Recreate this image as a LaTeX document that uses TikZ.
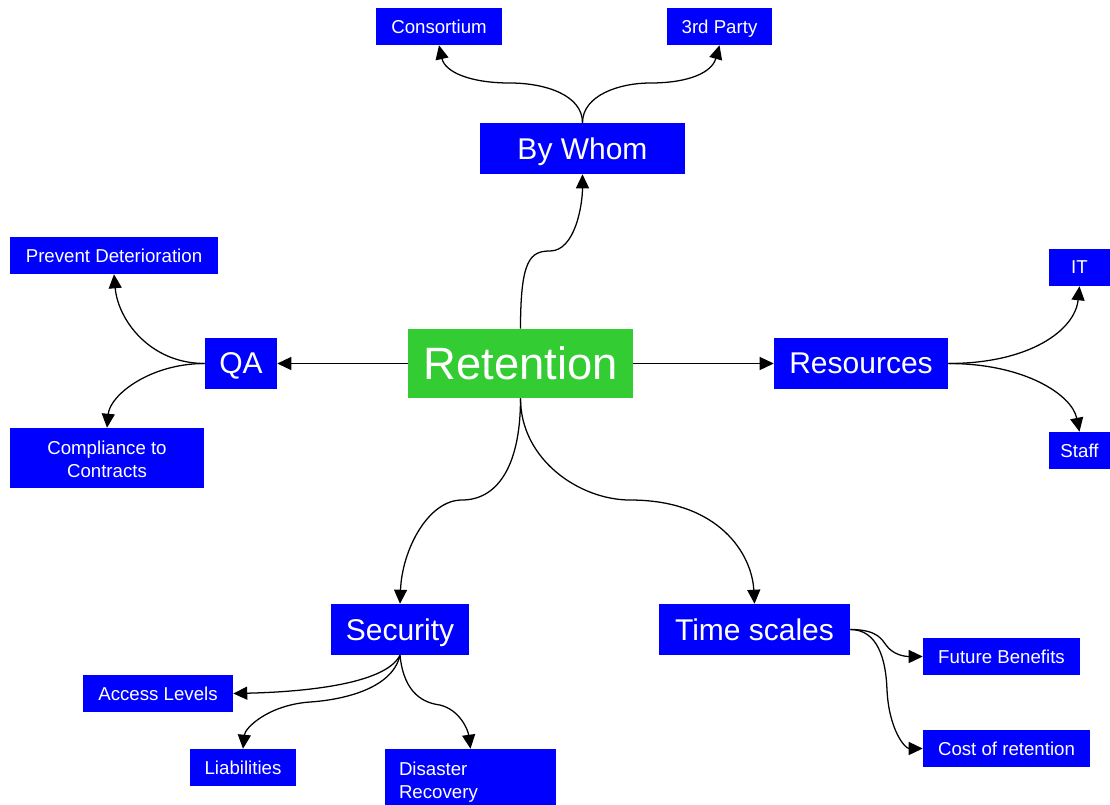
\documentclass[tikz,border=0pt]{standalone}
\usepackage{fontspec}
\setmainfont{Liberation Sans}
\usetikzlibrary{arrows.meta}
\definecolor{nodeblue}{RGB}{0,0,255}
\definecolor{rootgreen}{RGB}{51,204,51}
\begin{document}
\begin{tikzpicture}[x=0.75pt,y=-0.75pt,
  box/.style={fill=nodeblue,text=white,inner sep=0pt,align=center,text depth=0pt},
  big/.style={box,minimum height=38.25pt,font=\fontsize{22.5}{27}\selectfont},
  small/.style={box,minimum height=27.75pt,font=\fontsize{14}{17.25}\selectfont},
  link/.style={line width=0.95pt,-{Triangle[length=10.5pt,width=9.75pt]}},
  ]
\useasboundingbox (0,0) rectangle (1110,804);

% root topic
\node[fill=rootgreen,text=white,inner sep=0pt,minimum width=168.75pt,minimum height=51.75pt,
      text depth=0pt,font=\fontsize{34}{40}\selectfont] (ret) at (520.5,363.5) {Retention};

% main branches
\node[big,minimum width=153.75pt] (bw)  at (582.5,148.5) {By Whom};
\node[big,minimum width=54pt]     (qa)  at (241,363.5)   {QA};
\node[big,minimum width=130.5pt]  (res) at (861,363.5)   {Resources};
\node[big,minimum width=103.5pt]  (sec) at (400,629.5)   {Security};
\node[big,minimum width=143.25pt] (ts)  at (754.5,629.5) {Time scales};

% leaves
\node[small,minimum width=94.5pt]   (cons)  at (439,26.5)    {Consortium};
\node[small,minimum width=78.75pt]  (third) at (719.5,26.5)  {3rd Party};
\node[small,minimum width=156pt]    (pd)    at (114,255.5)   {Prevent Deterioration};
\node[small,minimum width=145.5pt,minimum height=45pt] (comp) at (107,458)
      {\begin{tabular}[b]{@{}c@{}}Compliance to\\Contracts\end{tabular}};
\node[small,minimum width=45.75pt]  (it)    at (1079.5,267.5) {IT};
\node[small,minimum width=45.75pt]  (staff) at (1079.5,450.5) {Staff};
\node[small,minimum width=112.5pt]  (al)    at (158,693.5)   {Access Levels};
\node[small,minimum width=79.5pt]   (li)    at (243,767.5)   {Liabilities};
\node[small,align=left,inner xsep=10.5pt,text width=107.25pt,minimum height=45pt]
      (dr) at (470.5,779) {\begin{tabular}[b]{@{}l@{}}Disaster\\Recovery\end{tabular}};
\node[small,minimum width=117.75pt] (fb)    at (1001.5,656.5) {Future Benefits};
\node[small,minimum width=125.25pt] (cr)    at (1006.5,748.5) {Cost of retention};

% root connectors
\draw[link] (ret.north) .. controls (520.5,260) and (530,251) .. (550,251)
                        .. controls (575,251) and (582.5,205) .. (bw.south);
\draw[link] (ret.west) -- (qa.east);
\draw[link] (ret.east) -- (res.west);
\draw[link] (ret.south) .. controls (520.5,470) and (495,500) .. (462,500)
                        .. controls (428,500) and (402,550) .. (sec.north);
\draw[link] (ret.south) .. controls (520.5,460) and (580,500) .. (630,500)
                        .. controls (720,500) and (752,555) .. (ts.north);

% By Whom
\draw[link] (bw.north) .. controls (582.5,95) and (545,83) .. (510,83)
                       .. controls (470,83) and (445,72) .. (cons.south);
\draw[link] (bw.north) .. controls (582.5,95) and (620,83) .. (650,83)
                       .. controls (690,83) and (712,72) .. (third.south);

% QA
\draw[link] (qa.west) .. controls (150,363.5) and (118,320) .. (pd.south);
\draw[link] (qa.west) .. controls (150,363.5) and (110,395) .. (comp.north);

% Resources
\draw[link] (res.east) .. controls (1030,363.5) and (1075,330) .. (it.south);
\draw[link] (res.east) .. controls (1025,363.5) and (1072,395) .. (staff.north);

% Security
\draw[link] (sec.south) .. controls (385,685) and (300,692) .. (al.east);
\draw[link] (sec.south) .. controls (392,690) and (340,700) .. (310,702)
                        .. controls (268,705) and (245,728) .. (li.north);
\draw[link] (sec.south) .. controls (404,695) and (425,703) .. (440,705)
                        .. controls (460,710) and (468,730) .. (dr.north);

% Time scales
\draw[link] (ts.east) .. controls (878,629.5) and (882,640) .. (886,645)
                      .. controls (893,655) and (905,656.5) .. (fb.west);
\draw[link] (ts.east) .. controls (878,629.5) and (886,660) .. (887,690)
                      .. controls (889,730) and (905,748.5) .. (cr.west);
\end{tikzpicture}
\end{document}
